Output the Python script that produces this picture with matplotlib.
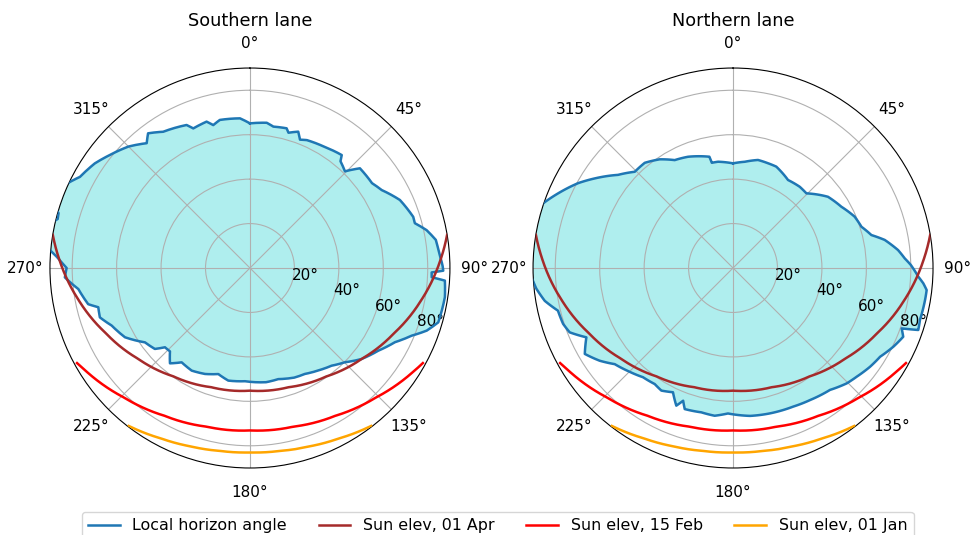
import numpy as np
import matplotlib
matplotlib.use("Agg")
import matplotlib.pyplot as plt

# Sun paths: azimuth (deg from north, clockwise) and zenith angle (deg)
APR_AZ = [80.4, 87.6, 100.7, 114.3, 128.9, 144.8, 162.0, 180.0,
          198.0, 215.2, 231.1, 245.7, 259.3, 272.4, 279.6]
APR_ZEN = [90.0, 85.8, 78.4, 71.2, 64.9, 59.7, 56.4, 55.2,
           56.4, 59.7, 64.9, 71.2, 78.4, 85.8, 90.0]

FEB_AZ = [118.8, 122.3, 135.8, 150.0, 164.8, 180.0,
          195.2, 210.0, 224.2, 237.7, 241.2]
FEB_ZEN = [88.8, 87.1, 81.3, 76.8, 74.0, 73.1,
           74.0, 76.8, 81.3, 87.1, 88.8]

JAN_AZ = [142.5, 143.7, 152.5, 161.6, 170.7, 180.0,
          189.3, 198.4, 207.5, 216.3, 217.5]
JAN_ZEN = [89.6, 89.2, 86.5, 84.6, 83.4, 83.0,
           83.4, 84.6, 86.5, 89.2, 89.6]

# Local horizon, southern lane (zenith of the horizon line per azimuth)
SOUTH_AZ = [0.0, 6.6, 9.4, 14.7, 15.9, 19.5, 21.3, 24.0, 31.5, 39.1,
            40.3, 44.5, 47.8, 55.2, 59.4, 65.6, 72.6, 74.8, 77.9, 81.4,
            85.5, 89.3, 90.8, 91.4, 92.9, 93.7, 98.5, 106.1, 109.5, 112.7,
            117.1, 122.8, 129.2, 134.8, 140.1, 146.0, 152.6, 158.0, 165.7, 172.0,
            182.5, 190.9, 196.6, 203.0, 209.6, 215.9, 220.0, 223.8, 227.0, 229.6,
            234.7, 241.0, 247.4, 251.8, 255.5, 257.4, 263.0, 267.1, 270.0, 273.0,
            275.5, 282.0, 284.3, 286.0, 288.0, 294.5, 298.2, 304.0, 308.9, 315.0,
            320.4, 322.9, 327.5, 336.1, 337.9, 343.5, 345.6, 348.5, 356.2, 360.0]
SOUTH_ZEN = [65.1, 65.8, 64.5, 65.0, 63.3, 65.1, 62.0, 63.0, 64.0, 65.5,
             63.0, 61.0, 66.8, 66.9, 68.9, 74.1, 77.0, 76.9, 81.3, 84.6,
             85.4, 86.7, 87.0, 81.8, 81.9, 87.9, 88.7, 88.2, 84.4, 78.9,
             73.3, 68.7, 64.8, 60.2, 57.3, 55.5, 53.7, 53.2, 51.6, 51.9,
             51.0, 51.6, 49.8, 51.8, 53.1, 52.4, 56.0, 52.0, 52.3, 56.2,
             57.9, 64.3, 67.4, 71.1, 70.5, 74.6, 77.8, 83.4, 82.5, 86.5,
             91.0, 93.0, 89.3, 89.6, 93.0, 91.0, 86.8, 84.2, 81.0, 77.3,
             72.9, 76.0, 72.7, 70.4, 67.8, 68.7, 66.4, 68.0, 67.5, 65.1]

# Local horizon, northern lane
NORTH_AZ = [0.0, 6.3, 13.0, 18.5, 23.1, 32.0, 39.4, 44.5, 53.1, 60.5,
            67.1, 72.2, 76.6, 79.5, 83.8, 86.8, 89.0, 92.7, 94.6, 96.5,
            99.5, 105.5, 108.5, 109.7, 112.0, 116.1, 121.1, 125.8, 131.3, 135.4,
            141.5, 149.7, 156.5, 165.7, 173.4, 182.0, 187.1, 192.4, 198.9, 200.6,
            202.4, 205.8, 210.3, 214.0, 219.5, 225.3, 230.9, 235.2, 239.9, 244.7,
            248.5, 251.8, 256.3, 260.1, 264.0, 267.8, 275.0, 285.0, 288.8, 293.1,
            298.7, 302.9, 309.0, 314.4, 320.0, 326.0, 331.6, 338.0, 348.0, 348.6,
            352.0, 360.0]
NORTH_ZEN = [47.1, 48.1, 49.9, 49.7, 49.6, 46.7, 47.3, 47.1, 53.4, 56.0,
             59.4, 60.7, 64.0, 69.4, 74.7, 77.4, 80.0, 83.5, 85.9, 87.7,
             87.6, 87.3, 87.9, 80.6, 82.6, 80.4, 77.3, 76.0, 74.1, 72.9,
             70.1, 68.8, 68.0, 67.5, 67.0, 65.5, 67.0, 66.5, 67.1, 63.8,
             67.0, 62.1, 63.9, 63.0, 63.7, 66.1, 68.6, 73.1, 77.1, 73.0,
             79.0, 80.5, 81.1, 86.0, 89.0, 91.0, 94.0, 94.0, 90.3, 85.6,
             79.5, 74.2, 66.6, 61.9, 61.8, 59.0, 55.2, 54.0, 51.2, 48.3,
             48.3, 47.1]

R_TICKS = [20, 40, 60, 80]
R_LABELS = ["20°", "40°", "60°", "80°"]

SUN_PATHS = [
    (APR_AZ, APR_ZEN, "brown", "Sun elev, 01 Apr"),
    (FEB_AZ, FEB_ZEN, "red", "Sun elev, 15 Feb"),
    (JAN_AZ, JAN_ZEN, "orange", "Sun elev, 01 Jan"),
]


def curved(artist, steps):
    # let the polar transform bend segments along theta instead of drawing chords
    artist.get_path()._interpolation_steps = steps
    return artist


def draw_lane(ax, az, zen, title):
    th = np.deg2rad(az)
    for poly in ax.fill(th, zen, color="paleturquoise", lw=0, zorder=1):
        curved(poly, 8)
    (hl,) = ax.plot(th, zen, color="tab:blue", lw=1.8,
                    label="Local horizon angle", zorder=3)
    curved(hl, 8)
    for a, z, c, lab in SUN_PATHS:
        (ln,) = ax.plot(np.deg2rad(a), z, color=c, lw=1.8, label=lab, zorder=3)
        curved(ln, 30)

    ax.set_theta_zero_location("N")
    ax.set_theta_direction(-1)
    ax.set_ylim(0, 90)
    ax.set_yticks(R_TICKS, labels=R_LABELS)
    ax.set_rlabel_position(110)
    ax.tick_params(axis="x", pad=7, labelsize=11)
    ax.tick_params(axis="y", labelsize=11)
    ax.set_title(title, fontsize=12.7, y=1.105, pad=0)


fig = plt.figure(figsize=(9.72, 5.35), dpi=100)
ax1 = fig.add_axes([0.0514, 0.1252, 0.4115, 0.7477], projection="polar")
ax2 = fig.add_axes([0.5484, 0.1252, 0.4115, 0.7477], projection="polar")

draw_lane(ax1, SOUTH_AZ, SOUTH_ZEN, "Southern lane")
draw_lane(ax2, NORTH_AZ, NORTH_ZEN, "Northern lane")

handles, labels = ax1.get_legend_handles_labels()
fig.legend(handles, labels, loc="upper center", bbox_to_anchor=(0.512, 0.058),
           ncol=4, fontsize=11.4)

fig.savefig("out.png", dpi=100)
